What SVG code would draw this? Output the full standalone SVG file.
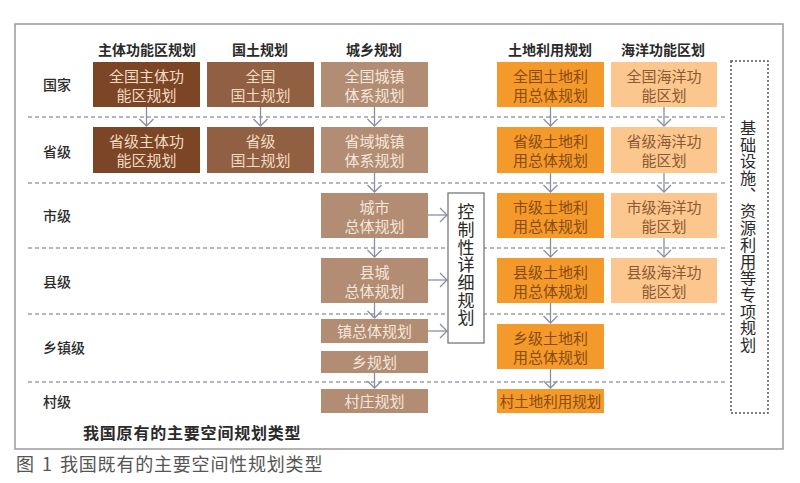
<svg xmlns="http://www.w3.org/2000/svg" width="800" height="483" viewBox="0 0 800 483">
<defs>
<marker id="chev" viewBox="-9 -8 10 16" markerWidth="10" markerHeight="16" refX="0" refY="0" orient="auto" markerUnits="userSpaceOnUse">
<path d="M-7,-7 L0,0 L-7,7" fill="none" stroke="#8a8f9e" stroke-width="1.3"/>
</marker>
<style>
text{font-family:"Noto Sans CJK SC","Noto Sans",sans-serif}
.hdr{font-size:14px;font-weight:bold;fill:#2a2a2a;text-anchor:middle}
.lvl{font-size:14px;fill:#2a2a2a;font-weight:500}
.bt{font-size:15px;text-anchor:middle}
.c1{fill:#7b4526}
.c2{fill:#915f41}
.c3{fill:#b28c73}
.c4{fill:#f39a2b}
.c5{fill:#fbc78e}
.t1{fill:#f2dcc4}
.t3{fill:#f4e6da}
.t4{fill:#8a4a12}
.t5{fill:#8e5832}
.dash{stroke:#6b7080;stroke-width:1.2;stroke-dasharray:4 3;fill:none}
.arr{stroke:#8a8f9e;stroke-width:1.3;fill:none;marker-end:url(#chev)}
.vt{fill:#2a2a2a;writing-mode:vertical-rl;text-anchor:start}
</style>
</defs>
<rect width="800" height="483" fill="#ffffff"/>
<rect id="frame" x="15" y="24" width="768" height="425" fill="none" stroke="#9a9a9a" stroke-width="1.5"/>

<g id="gridlines">
<line class="dash" x1="28" y1="117" x2="725" y2="117"/>
<line class="dash" x1="28" y1="183" x2="725" y2="183"/>
<line class="dash" x1="28" y1="248" x2="725" y2="248"/>
<line class="dash" x1="28" y1="314" x2="725" y2="314"/>
<line class="dash" x1="28" y1="382" x2="725" y2="382"/>
</g>

<g id="headers">
<text class="hdr" x="147" y="55">主体功能区规划</text>
<text class="hdr" x="260" y="55">国土规划</text>
<text class="hdr" x="374" y="55">城乡规划</text>
<text class="hdr" x="550" y="55">土地利用规划</text>
<text class="hdr" x="663" y="55">海洋功能区划</text>
</g>

<g id="levels">
<text class="lvl" x="43" y="90">国家</text>
<text class="lvl" x="43" y="157">省级</text>
<text class="lvl" x="43" y="221">市级</text>
<text class="lvl" x="43" y="287">县级</text>
<text class="lvl" x="43" y="353">乡镇级</text>
<text class="lvl" x="43" y="407">村级</text>
</g>

<g id="connectors">
<line class="arr" x1="146.5" y1="107" x2="146.5" y2="126"/>
<line class="arr" x1="260.5" y1="107" x2="260.5" y2="126"/>
<line class="arr" x1="374.5" y1="107" x2="374.5" y2="126"/>
<line class="arr" x1="374.5" y1="173" x2="374.5" y2="192"/>
<line class="arr" x1="374.5" y1="238" x2="374.5" y2="257"/>
<line class="arr" x1="374.5" y1="303" x2="374.5" y2="318"/>
<line class="arr" x1="374.5" y1="373" x2="374.5" y2="388"/>
<line class="arr" x1="550.5" y1="107" x2="550.5" y2="126"/>
<line class="arr" x1="550.5" y1="173" x2="550.5" y2="192"/>
<line class="arr" x1="550.5" y1="238" x2="550.5" y2="257"/>
<line class="arr" x1="550.5" y1="303" x2="550.5" y2="323"/>
<line class="arr" x1="550.5" y1="369" x2="550.5" y2="388"/>
<line class="arr" x1="664" y1="107" x2="664" y2="126"/>
<line class="arr" x1="664" y1="173" x2="664" y2="192"/>
<line class="arr" x1="664" y1="238" x2="664" y2="257"/>
<line class="arr" x1="428" y1="215" x2="447" y2="215"/>
<line class="arr" x1="428" y1="280" x2="447" y2="280"/>
<line class="arr" x1="428" y1="331" x2="447" y2="331"/>
</g>

<g id="n_zt_gj"><rect class="c1" x="93" y="62" width="107" height="45"/><text class="bt t1" x="146.5" y="81.5">全国主体功</text><text class="bt t1" x="146.5" y="100.5">能区规划</text></g>
<g id="n_gt_gj"><rect class="c2" x="207" y="62" width="107" height="45"/><text class="bt t1" x="260.5" y="81.5">全国</text><text class="bt t1" x="260.5" y="100.5">国土规划</text></g>
<g id="n_cx_gj"><rect class="c3" x="321" y="62" width="107" height="45"/><text class="bt t3" x="374.5" y="81.5">全国城镇</text><text class="bt t3" x="374.5" y="100.5">体系规划</text></g>
<g id="n_td_gj"><rect class="c4" x="497" y="62" width="107" height="45"/><text class="bt t4" x="550.5" y="81.5">全国土地利</text><text class="bt t4" x="550.5" y="100.5">用总体规划</text></g>
<g id="n_hy_gj"><rect class="c5" x="611" y="62" width="106" height="45"/><text class="bt t5" x="664" y="81.5">全国海洋功</text><text class="bt t5" x="664" y="100.5">能区划</text></g>

<g id="n_zt_sj"><rect class="c1" x="93" y="127" width="107" height="46"/><text class="bt t1" x="146.5" y="146.5">省级主体功</text><text class="bt t1" x="146.5" y="165.5">能区规划</text></g>
<g id="n_gt_sj"><rect class="c2" x="207" y="127" width="107" height="46"/><text class="bt t1" x="260.5" y="146.5">省级</text><text class="bt t1" x="260.5" y="165.5">国土规划</text></g>
<g id="n_cx_sj"><rect class="c3" x="321" y="127" width="107" height="46"/><text class="bt t3" x="374.5" y="146.5">省域城镇</text><text class="bt t3" x="374.5" y="165.5">体系规划</text></g>
<g id="n_td_sj"><rect class="c4" x="497" y="127" width="107" height="46"/><text class="bt t4" x="550.5" y="146.5">省级土地利</text><text class="bt t4" x="550.5" y="165.5">用总体规划</text></g>
<g id="n_hy_sj"><rect class="c5" x="611" y="127" width="106" height="46"/><text class="bt t5" x="664" y="146.5">省级海洋功</text><text class="bt t5" x="664" y="165.5">能区划</text></g>

<g id="n_cx_shi"><rect class="c3" x="321" y="193" width="107" height="45"/><text class="bt t3" x="374.5" y="212.5">城市</text><text class="bt t3" x="374.5" y="231.5">总体规划</text></g>
<g id="n_td_shi"><rect class="c4" x="497" y="193" width="107" height="45"/><text class="bt t4" x="550.5" y="212.5">市级土地利</text><text class="bt t4" x="550.5" y="231.5">用总体规划</text></g>
<g id="n_hy_shi"><rect class="c5" x="611" y="193" width="106" height="45"/><text class="bt t5" x="664" y="212.5">市级海洋功</text><text class="bt t5" x="664" y="231.5">能区划</text></g>

<g id="n_cx_xian"><rect class="c3" x="321" y="258" width="107" height="45"/><text class="bt t3" x="374.5" y="277.5">县城</text><text class="bt t3" x="374.5" y="296.5">总体规划</text></g>
<g id="n_td_xian"><rect class="c4" x="497" y="258" width="107" height="45"/><text class="bt t4" x="550.5" y="277.5">县级土地利</text><text class="bt t4" x="550.5" y="296.5">用总体规划</text></g>
<g id="n_hy_xian"><rect class="c5" x="611" y="258" width="106" height="45"/><text class="bt t5" x="664" y="277.5">县级海洋功</text><text class="bt t5" x="664" y="296.5">能区划</text></g>

<g id="n_zhen"><rect class="c3" x="321" y="319" width="107" height="24"/><text class="bt t3" x="374.5" y="336.5">镇总体规划</text></g>
<g id="n_xiang"><rect class="c3" x="321" y="351" width="107" height="22"/><text class="bt t3" x="374.5" y="367.5">乡规划</text></g>
<g id="n_td_xiang"><rect class="c4" x="497" y="324" width="107" height="45"/><text class="bt t4" x="550.5" y="343.5">乡级土地利</text><text class="bt t4" x="550.5" y="362.5">用总体规划</text></g>

<g id="n_cun"><rect class="c3" x="321" y="389" width="107" height="24"/><text class="bt t3" x="374.5" y="406.5">村庄规划</text></g>
<g id="n_td_cun"><rect class="c4" x="497" y="389" width="107" height="24"/><text class="bt t4" x="550.5" y="406.5" style="font-size:14.5px">村土地利用规划</text></g>

<g id="n_kongzhi">
<rect x="448" y="193" width="36" height="150" fill="#ffffff" stroke="#777" stroke-width="1.3"/>
<text class="vt" x="466" y="203.5" style="font-size:17px;letter-spacing:0.67px">控制性详细规划</text>
</g>

<g id="n_zhuanxiang">
<rect x="731" y="61" width="37" height="352" fill="none" stroke="#555" stroke-width="1.5" stroke-dasharray="2 2"/>
<text class="vt" x="748" y="119.7" style="font-size:16.2px;letter-spacing:0.5px">基础设施、资源利用等专项规划</text>
</g>

<text id="title" x="83" y="439" style="font-size:16px;font-weight:bold;fill:#2a2a2a;letter-spacing:0.8px">我国原有的主要空间规划类型</text>

<text id="caption" y="471" style="font-size:18px;fill:#555"><tspan x="16">图</tspan><tspan x="42">1</tspan><tspan x="60" style="letter-spacing:0.8px">我国既有的主要空间性规划类型</tspan></text>
</svg>
